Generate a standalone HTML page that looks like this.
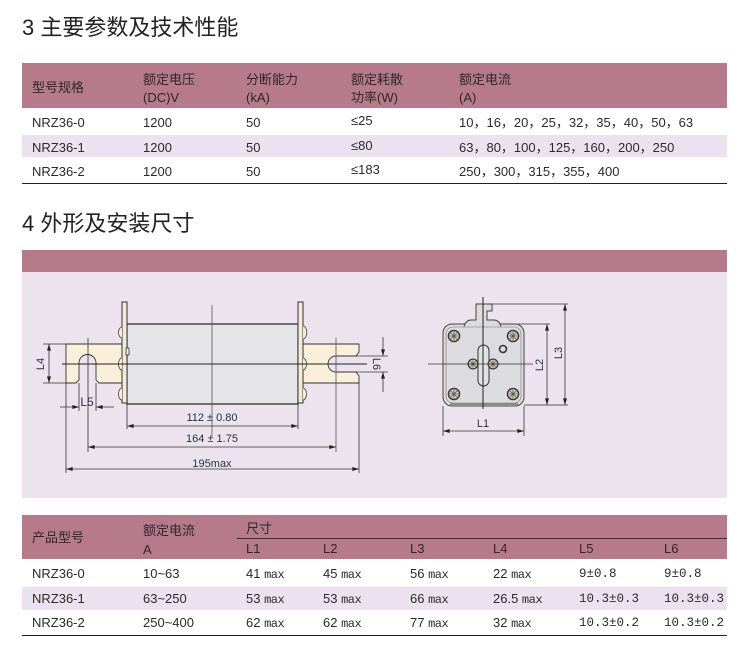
<!DOCTYPE html>
<html><head><meta charset="utf-8">
<style>
*{margin:0;padding:0;box-sizing:border-box}
body{width:748px;height:662px;position:relative;overflow:hidden;background:#fff;font-family:"Liberation Sans","Noto Sans CJK SC",sans-serif;color:#2a2a2a}
.t{position:absolute;white-space:nowrap;font-size:13px;line-height:15px}
.h{position:absolute;white-space:nowrap;font-size:22px;line-height:26px;color:#222}
.bar{position:absolute;left:22px;width:705px}
.m{font-family:"Liberation Mono","Noto Sans CJK SC",monospace;font-size:12px;letter-spacing:-0.5px}
.p{font-family:"Liberation Mono","Noto Sans CJK SC",monospace;font-size:12.5px;margin-top:1.5px}
</style></head><body>

<!-- Section 3 -->
<div class="h" style="left:22px;top:14.5px">3 主要参数及技术性能</div>
<div class="bar" style="top:63px;height:45px;background:#b77a8b"></div>
<div class="bar" style="top:135px;height:22px;background:#ece2ef"></div>
<div class="bar" style="top:182.5px;height:1.5px;background:#222"></div>

<div class="t" style="left:32px;top:79.5px">型号规格</div>
<div class="t" style="left:143px;top:71.5px">额定电压</div>
<div class="t" style="left:143px;top:89.5px">(DC)V</div>
<div class="t" style="left:246px;top:71.5px">分断能力</div>
<div class="t" style="left:246px;top:89.5px">(kA)</div>
<div class="t" style="left:351px;top:71.5px">额定耗散</div>
<div class="t" style="left:351px;top:89.5px">功率(W)</div>
<div class="t" style="left:459px;top:71.5px">额定电流</div>
<div class="t" style="left:459px;top:89.5px">(A)</div>

<div class="t" style="left:32px;top:114.5px">NRZ36-0</div>
<div class="t" style="left:143px;top:114.5px">1200</div>
<div class="t" style="left:246px;top:114.5px">50</div>
<div class="t" style="left:351px;top:112.5px">≤25</div>
<div class="t" style="left:459px;top:114.5px">10，16，20，25，32，35，40，50，63</div>

<div class="t" style="left:32px;top:139.5px">NRZ36-1</div>
<div class="t" style="left:143px;top:139.5px">1200</div>
<div class="t" style="left:246px;top:139.5px">50</div>
<div class="t" style="left:351px;top:137.5px">≤80</div>
<div class="t" style="left:459px;top:139.5px">63，80，100，125，160，200，250</div>

<div class="t" style="left:32px;top:163.5px">NRZ36-2</div>
<div class="t" style="left:143px;top:163.5px">1200</div>
<div class="t" style="left:246px;top:163.5px">50</div>
<div class="t" style="left:351px;top:161.5px">≤183</div>
<div class="t" style="left:459px;top:163.5px">250，300，315，355，400</div>

<!-- Section 4 -->
<div class="h" style="left:22px;top:211px">4 外形及安装尺寸</div>
<div class="bar" style="top:250px;height:22px;background:#b77a8b"></div>
<div class="bar" style="top:272px;height:226px;background:#ede3ef"></div>

<!-- Table 3 -->
<div class="bar" style="top:515px;height:44px;background:#b77a8b"></div>
<div style="position:absolute;left:237px;top:538px;width:490px;height:1px;background:#333"></div>
<div class="bar" style="top:587px;height:23px;background:#ece2ef"></div>
<div class="bar" style="top:634.5px;height:1.5px;background:#222"></div>

<div class="t" style="left:32px;top:529.5px">产品型号</div>
<div class="t" style="left:143px;top:522.5px">额定电流</div>
<div class="t" style="left:143px;top:541.5px">A</div>
<div class="t" style="left:246px;top:521px">尺寸</div>
<div class="t" style="left:246px;top:540.5px">L1</div>
<div class="t" style="left:323px;top:540.5px">L2</div>
<div class="t" style="left:410px;top:540.5px">L3</div>
<div class="t" style="left:493px;top:540.5px">L4</div>
<div class="t" style="left:579px;top:540.5px">L5</div>
<div class="t" style="left:664px;top:540.5px">L6</div>

<div class="t" style="left:32px;top:565.5px">NRZ36-0</div>
<div class="t" style="left:143px;top:565.5px">10~63</div>
<div class="t" style="left:246px;top:565.5px">41 <span class="m">max</span></div>
<div class="t" style="left:323px;top:565.5px">45 <span class="m">max</span></div>
<div class="t" style="left:410px;top:565.5px">56 <span class="m">max</span></div>
<div class="t" style="left:493px;top:565.5px">22 <span class="m">max</span></div>
<div class="t p" style="left:579px;top:565.5px">9±0.8</div>
<div class="t p" style="left:664px;top:565.5px">9±0.8</div>

<div class="t" style="left:32px;top:590.5px">NRZ36-1</div>
<div class="t" style="left:143px;top:590.5px">63~250</div>
<div class="t" style="left:246px;top:590.5px">53 <span class="m">max</span></div>
<div class="t" style="left:323px;top:590.5px">53 <span class="m">max</span></div>
<div class="t" style="left:410px;top:590.5px">66 <span class="m">max</span></div>
<div class="t" style="left:493px;top:590.5px">26.5 <span class="m">max</span></div>
<div class="t p" style="left:579px;top:590.5px">10.3±0.3</div>
<div class="t p" style="left:664px;top:590.5px">10.3±0.3</div>

<div class="t" style="left:32px;top:614.5px">NRZ36-2</div>
<div class="t" style="left:143px;top:614.5px">250~400</div>
<div class="t" style="left:246px;top:614.5px">62 <span class="m">max</span></div>
<div class="t" style="left:323px;top:614.5px">62 <span class="m">max</span></div>
<div class="t" style="left:410px;top:614.5px">77 <span class="m">max</span></div>
<div class="t" style="left:493px;top:614.5px">32 <span class="m">max</span></div>
<div class="t p" style="left:579px;top:614.5px">10.3±0.2</div>
<div class="t p" style="left:664px;top:614.5px">10.3±0.2</div>

<svg width="748" height="662" viewBox="0 0 748 662" style="position:absolute;left:0;top:0" xmlns="http://www.w3.org/2000/svg">
<defs>
<marker id="a" viewBox="0 0 10 6" refX="10" refY="3" markerWidth="7" markerHeight="4" orient="auto-start-reverse" markerUnits="userSpaceOnUse"><path d="M0,0 L10,3 L0,6 Z" fill="#222"/></marker>
<g id="sc">
<circle r="6.3" fill="#3a3a3a"/>
<circle r="4.8" fill="#d8d0bb"/>
<path d="M-4,0H4M0,-4V4M-3,-3L3,3M-3,3L3,-3" stroke="#555" stroke-width="0.8"/>
</g>
<g id="sm">
<circle r="5.5" fill="#3a3a3a"/>
<circle r="4.2" fill="#d8d0bb"/>
<path d="M-3.5,0H3.5M0,-3.5V3.5M-2.5,-2.5L2.5,2.5M-2.5,2.5L2.5,-2.5" stroke="#555" stroke-width="0.8"/>
</g>
</defs>

<!-- LEFT FUSE -->
<path d="M66,344 H122 V383 H99 L96,380 V363 A8.5,8.5 0 0 0 79,363 V380 L76,383 H66 Z" fill="#faefd9" stroke="#333" stroke-width="0.9"/>
<path d="M303,344 H359 V352 L356,356 H336 A8,8 0 0 0 336,372 H356 L359,376 V383 H303 Z" fill="#faefd9" stroke="#333" stroke-width="0.9"/>
<rect x="127" y="324" width="171" height="80" fill="#e5e5e9" stroke="#222" stroke-width="1.2"/>
<rect x="122" y="302" width="5" height="101" fill="#f3ead8" stroke="#333" stroke-width="1"/>
<rect x="298" y="302" width="5" height="101" fill="#f3ead8" stroke="#333" stroke-width="1"/>
<g fill="#f5ecd8" stroke="#444" stroke-width="0.8">
<path d="M122,327 A3.5,5.5 0 0 0 122,338"/>
<path d="M122,358 A3.5,6 0 0 0 122,370"/>
<path d="M122,388 A3.5,6 0 0 0 122,400"/>
<path d="M303,326 A3.5,6 0 0 1 303,339"/>
<path d="M303,358 A3.5,6 0 0 1 303,370"/>
<path d="M303,388 A3.5,6 0 0 1 303,400"/>
</g>
<rect x="126" y="348" width="3" height="7" fill="#f3ead8" stroke="#333" stroke-width="0.8"/>
<line x1="62" y1="364" x2="367" y2="364" stroke="#222" stroke-width="1"/>
<line x1="212" y1="305" x2="212" y2="437" stroke="#555" stroke-width="0.8"/>
<line x1="88" y1="338" x2="88" y2="452" stroke="#333" stroke-width="0.8"/>
<line x1="336" y1="338" x2="336" y2="452" stroke="#555" stroke-width="0.8"/>
<g stroke="#333" stroke-width="0.8">
<line x1="66" y1="383" x2="66" y2="473"/>
<line x1="359" y1="383" x2="359" y2="473"/>
<line x1="127" y1="404" x2="127" y2="429"/>
<line x1="298" y1="404" x2="298" y2="429"/>
<line x1="43" y1="344" x2="66" y2="344"/>
<line x1="43" y1="383" x2="66" y2="383"/>
<line x1="79" y1="383" x2="79" y2="411"/>
<line x1="96" y1="383" x2="96" y2="411"/>
<line x1="356" y1="356" x2="388" y2="356"/>
<line x1="356" y1="372" x2="388" y2="372"/>
</g>
<g stroke="#333" stroke-width="0.8" fill="none">
<line x1="127" y1="426" x2="298" y2="426" marker-start="url(#a)" marker-end="url(#a)"/>
<line x1="88" y1="447" x2="336" y2="447" marker-start="url(#a)" marker-end="url(#a)"/>
<line x1="66" y1="469" x2="359" y2="469" marker-start="url(#a)" marker-end="url(#a)"/>
<line x1="49" y1="344" x2="49" y2="383" marker-start="url(#a)" marker-end="url(#a)"/>
<line x1="60" y1="407" x2="79" y2="407" marker-end="url(#a)"/>
<line x1="114" y1="407" x2="96" y2="407" marker-end="url(#a)"/>
<line x1="383" y1="337" x2="383" y2="356" marker-end="url(#a)"/>
<line x1="383" y1="392" x2="383" y2="372" marker-end="url(#a)"/>
</g>
<g font-family="Liberation Sans, sans-serif" font-size="11" fill="#2b3040" text-anchor="middle">
<text x="212" y="421">112 ± 0.80</text>
<text x="212" y="442">164 ± 1.75</text>
<text x="212" y="467">195max</text>
<text x="87" y="406" font-size="12">L5</text>
<text x="0" y="0" transform="translate(44,364) rotate(-90)">L4</text>
<text x="0" y="0" transform="translate(373,364) rotate(90)">L6</text>
</g>

<!-- RIGHT VIEW -->
<rect x="443" y="324" width="81" height="82" rx="9" fill="#dcdce0" stroke="#444" stroke-width="1"/>
<rect x="446" y="327" width="75" height="76" rx="7" fill="none" stroke="#777" stroke-width="0.6"/>
<line x1="450" y1="404" x2="518" y2="404" stroke="#8a8a8e" stroke-width="2"/>
<path d="M464,326.5 Q466,320 471,320 L476,320 L476,304 L492,304 L492,311 L487,311 L487,320 L494,320 Q499,320 501,326.5" fill="#dcdce0" stroke="#444" stroke-width="1"/>
<rect x="478" y="345" width="11" height="41" rx="5.5" fill="#e2e2e6" stroke="#333" stroke-width="1"/>
<circle cx="503" cy="349" r="3.5" fill="none" stroke="#333" stroke-width="1.6"/>
<use href="#sc" x="454" y="336"/>
<use href="#sc" x="513" y="336"/>
<use href="#sc" x="454" y="394"/>
<use href="#sc" x="513" y="394"/>
<use href="#sm" x="473" y="364"/>
<use href="#sm" x="493" y="364"/>
<line x1="483" y1="297" x2="483" y2="409" stroke="#222" stroke-width="1"/>
<line x1="428" y1="364" x2="533" y2="364" stroke="#333" stroke-width="0.8"/>
<g stroke="#333" stroke-width="0.8">
<line x1="492" y1="304" x2="568" y2="304"/>
<line x1="518" y1="324" x2="550" y2="324"/>
<line x1="443" y1="406" x2="443" y2="436"/>
<line x1="524" y1="406" x2="524" y2="436"/>
</g>
<line x1="524" y1="405" x2="568" y2="405" stroke="#8a8a8e" stroke-width="1.6"/>
<g stroke="#333" stroke-width="0.8">
<line x1="565" y1="304" x2="565" y2="405" marker-start="url(#a)" marker-end="url(#a)"/>
<line x1="547" y1="324" x2="547" y2="405" marker-start="url(#a)" marker-end="url(#a)"/>
<line x1="443" y1="431" x2="524" y2="431" marker-start="url(#a)" marker-end="url(#a)"/>
</g>
<g font-family="Liberation Sans, sans-serif" font-size="11" fill="#2b3040" text-anchor="middle">
<text x="483" y="427">L1</text>
<text x="0" y="0" transform="translate(543,365) rotate(-90)">L2</text>
<text x="0" y="0" transform="translate(562,353) rotate(-90)">L3</text>
</g>
</svg>
</body></html>
